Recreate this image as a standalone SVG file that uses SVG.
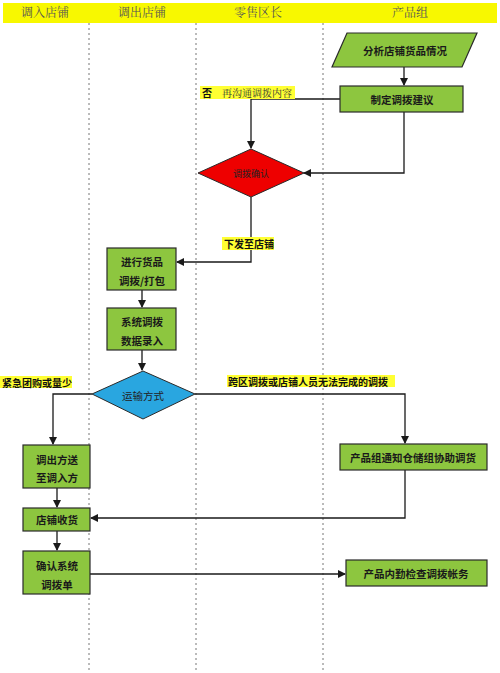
<svg xmlns="http://www.w3.org/2000/svg" width="500" height="673" viewBox="0 0 500 673">
<style>
.hdr{font-family:"Noto Serif CJK SC","Noto Sans CJK SC",serif;font-size:12px;fill:#555;text-anchor:middle}
.box{fill:#8dc63f;stroke:#2a2a2a;stroke-width:1.2}
.t{font-family:"Noto Sans CJK SC",sans-serif;font-size:10.5px;font-weight:bold;fill:#1a1a1a;text-anchor:middle;dominant-baseline:central}
.lbl{font-family:"Noto Sans CJK SC",sans-serif;font-size:10px;font-weight:bold;fill:#111;dominant-baseline:central}
.hl{fill:#ffff33}
.div{stroke:#777;stroke-width:1;stroke-dasharray:2,3}
.c{fill:none;stroke:#1a1a1a;stroke-width:1.3;marker-end:url(#ah)}
.cn{fill:none;stroke:#1a1a1a;stroke-width:1.3}
</style>
<defs>
<marker id="ah" markerWidth="8" markerHeight="8" refX="7" refY="4" orient="auto" markerUnits="userSpaceOnUse">
<path d="M0,0 L8,4 L0,8 Z" fill="#1a1a1a"/>
</marker>
</defs>
<rect width="500" height="673" fill="#fff"/>
<g id="header">
<rect x="3" y="3" width="494" height="20" fill="#f8f800"/>
<text class="hdr" x="45" y="17">调入店铺</text>
<text class="hdr" x="142" y="17">调出店铺</text>
<text class="hdr" x="258" y="17">零售区长</text>
<text class="hdr" x="410" y="17">产品组</text>
</g>
<g id="lanes">
<line class="div" x1="89" y1="23" x2="89" y2="673"/>
<line class="div" x1="196" y1="23" x2="196" y2="673"/>
<line class="div" x1="323" y1="23" x2="323" y2="673"/>
</g>
<g id="connectors">
<line class="c" x1="404" y1="67" x2="404" y2="85"/>
<polyline class="c" points="340,99 251,99 251,148"/>
<polyline class="c" points="404,112 404,173 304,173"/>
<polyline class="c" points="251,197 251,262 177,262"/>
<line class="c" x1="142" y1="290" x2="142" y2="307"/>
<line class="c" x1="142" y1="350" x2="142" y2="370"/>
<polyline class="c" points="92,394 53,394 53,444"/>
<polyline class="c" points="195,394 405,394 405,443"/>
<line class="c" x1="57" y1="488" x2="57" y2="507"/>
<polyline class="c" points="405,470 405,518 91,518"/>
<line class="c" x1="57" y1="531" x2="57" y2="550"/>
<line class="c" x1="90" y1="574" x2="345" y2="574"/>
</g>
<g id="labels">
<rect class="hl" x="200" y="86" width="95" height="13"/>
<text class="lbl" x="202" y="92.5">否</text>
<text class="lbl" x="222" y="92.5" style="font-weight:normal;font-family:'Noto Serif CJK SC','Noto Sans CJK SC',serif;fill:#333">再沟通调拨内容</text>
<rect class="hl" x="222" y="237" width="52" height="13"/>
<text class="lbl" x="224" y="243.5">下发至店铺</text>
<rect class="hl" x="0" y="376" width="72" height="12"/>
<text class="lbl" x="2" y="382">紧急团购或量少</text>
<rect class="hl" x="227" y="375" width="168" height="12"/>
<text class="lbl" x="228" y="381">跨区调拨或店铺人员无法完成的调拨</text>
</g>
<g id="n-analyze">
<polygon class="box" points="347,33 477,33 462,67 332,67"/>
<text class="t" x="405" y="50">分析店铺货品情况</text>
</g>
<g id="n-suggest">
<rect class="box" x="340" y="86" width="123" height="26"/>
<text class="t" x="402" y="99">制定调拨建议</text>
</g>
<g id="n-confirm">
<polygon points="251,149 304,173 251,197 198,173" fill="#ee0000" stroke="#2a2a2a" stroke-width="1"/>
<text class="t" x="251" y="173" style="font-size:9px;font-weight:normal;fill:#222">调拨确认</text>
</g>
<g id="n-pack">
<rect class="box" x="107" y="248" width="69" height="42"/>
<text class="t" x="142" y="261">进行货品</text>
<text class="t" x="142" y="280">调拨/打包</text>
</g>
<g id="n-entry">
<rect class="box" x="107" y="308" width="69" height="42"/>
<text class="t" x="142" y="321">系统调拨</text>
<text class="t" x="142" y="340">数据录入</text>
</g>
<g id="n-transport">
<polygon points="143,371 195,394 143,419 92,394" fill="#29a6e0" stroke="#2a2a2a" stroke-width="1"/>
<text class="t" x="143" y="395" style="font-weight:normal;fill:#222">运输方式</text>
</g>
<g id="n-send">
<rect class="box" x="23" y="445" width="67" height="43"/>
<text class="t" x="57" y="459">调出方送</text>
<text class="t" x="57" y="477">至调入方</text>
</g>
<g id="n-warehouse">
<rect class="box" x="340" y="444" width="147" height="26"/>
<text class="t" x="413" y="457">产品组通知仓储组协助调货</text>
</g>
<g id="n-receive">
<rect class="box" x="23" y="508" width="67" height="23"/>
<text class="t" x="57" y="519.5">店铺收货</text>
</g>
<g id="n-confirmbill">
<rect class="box" x="23" y="551" width="67" height="43"/>
<text class="t" x="57" y="565">确认系统</text>
<text class="t" x="57" y="584">调拨单</text>
</g>
<g id="n-check">
<rect class="box" x="346" y="560" width="141" height="26"/>
<text class="t" x="416" y="573">产品内勤检查调拨帐务</text>
</g>
</svg>
